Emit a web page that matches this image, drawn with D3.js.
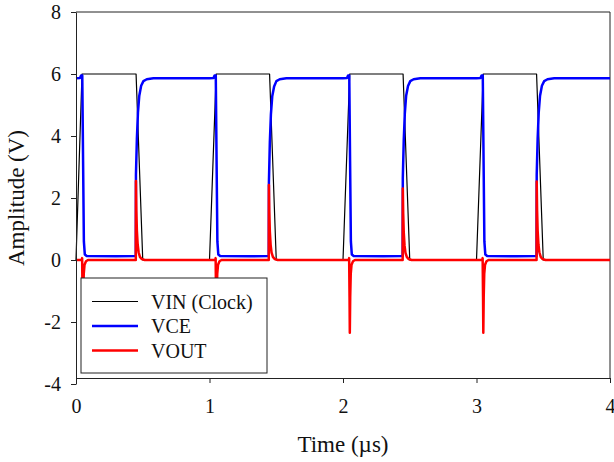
<!DOCTYPE html>
<html>
<head>
<meta charset="utf-8">
<script src="https://cdn.jsdelivr.net/npm/d3@7"></script>
<style>
  body { margin: 0; background: #fff; }
  svg text { font-family: "Liberation Serif", "Times New Roman", serif; fill: #111; }
  .line { fill: none; stroke-linejoin: round; }
</style>
</head>
<body>
<script>
// time in µs, amplitude in V
const vinT = [0, 0.045, 0.45, 0.5, 1.0, 1.05, 1.45, 1.5, 2.0, 2.05, 2.45, 2.5, 3.0, 3.05, 3.45, 3.5, 4.0];
const vinV = [0, 6, 6, 0, 0, 6, 6, 0, 0, 6, 6, 0, 0, 6, 6, 0, 0];

const vceT = [
  0, 0.03, 0.038, 0.047, 0.053, 0.059, 0.066, 0.08, 0.3, 0.448, 0.449, 0.456, 0.464, 0.474, 0.488, 0.505, 0.53, 0.58,
  1.0, 1.03, 1.038, 1.047, 1.053, 1.059, 1.066, 1.08, 1.3, 1.444, 1.445, 1.452, 1.46, 1.47, 1.484, 1.501, 1.526, 1.576,
  2.0, 2.03, 2.038, 2.047, 2.053, 2.059, 2.066, 2.08, 2.3, 2.447, 2.448, 2.455, 2.463, 2.473, 2.487, 2.504, 2.529, 2.579,
  3.0, 3.03, 3.038, 3.047, 3.053, 3.059, 3.066, 3.08, 3.3, 3.45, 3.451, 3.458, 3.466, 3.476, 3.49, 3.507, 3.532, 3.582,
  4.0];
const vceV = [
  5.86, 5.87, 5.95, 5.95, 3.2, 0.6, 0.18, 0.13, 0.12, 0.13, 2.75, 3.9, 4.75, 5.3, 5.62, 5.77, 5.83, 5.86,
  5.86, 5.87, 5.95, 5.95, 3.2, 0.6, 0.18, 0.13, 0.12, 0.13, 2.5, 3.8, 4.7, 5.28, 5.6, 5.77, 5.83, 5.86,
  5.86, 5.87, 5.95, 5.95, 3.2, 0.6, 0.18, 0.13, 0.12, 0.13, 2.65, 3.85, 4.72, 5.3, 5.61, 5.77, 5.83, 5.86,
  5.86, 5.87, 5.95, 5.95, 3.2, 0.6, 0.18, 0.13, 0.12, 0.13, 2.75, 3.9, 4.75, 5.3, 5.62, 5.77, 5.83, 5.86,
  5.86];

const voutT = [
  0, 0.043, 0.046, 0.049, 0.051, 0.054, 0.058, 0.064, 0.075, 0.09, 0.448, 0.449, 0.452, 0.456, 0.462, 0.469, 0.479, 0.492, 0.515,
  1.043, 1.046, 1.049, 1.051, 1.054, 1.058, 1.064, 1.075, 1.09, 1.444, 1.445, 1.448, 1.452, 1.458, 1.465, 1.475, 1.488, 1.511,
  2.043, 2.046, 2.049, 2.051, 2.054, 2.058, 2.064, 2.075, 2.09, 2.447, 2.448, 2.451, 2.455, 2.461, 2.468, 2.478, 2.491, 2.514,
  3.043, 3.046, 3.049, 3.051, 3.054, 3.058, 3.064, 3.075, 3.09, 3.45, 3.451, 3.454, 3.458, 3.464, 3.471, 3.481, 3.494, 3.517,
  4.0];
const voutV = [
  0, 0, 0.06, -1.2, -2.35, -1.2, -0.45, -0.15, -0.04, 0, 0, 2.55, 1.6, 0.95, 0.5, 0.25, 0.1, 0.03, 0,
  0, 0.06, -1.2, -2.35, -1.2, -0.45, -0.15, -0.04, 0, 0, 2.42, 1.55, 0.92, 0.48, 0.24, 0.1, 0.03, 0,
  0, 0.06, -1.2, -2.35, -1.2, -0.45, -0.15, -0.04, 0, 0, 2.31, 1.5, 0.9, 0.47, 0.23, 0.1, 0.03, 0,
  0, 0.06, -1.2, -2.35, -1.2, -0.45, -0.15, -0.04, 0, 0, 2.53, 1.6, 0.95, 0.5, 0.25, 0.1, 0.03, 0,
  0];

const seriesNames = ["VIN (Clock)", "VCE", "VOUT"];
const seriesColors = ["#000000", "#0000ff", "#ff0000"];
const xTicks = [0, 1, 2, 3, 4];
const yTicks = [-4, -2, 0, 2, 4, 6, 8];

const w = 614, h = 462;
const margin = ({top: 12, right: 4, bottom: 78, left: 76});
const xAxisY = 378;
const font = "'Liberation Serif', 'Times New Roman', serif";

const svg = d3.select("body").append("svg")
  .attr("width", w)
  .attr("height", h);

const x = d3.scaleLinear()
  .domain([0, 4])
  .range([margin.left, w - margin.right]);

const y = d3.scaleLinear()
  .domain([-4, 8])
  .range([h - margin.bottom, margin.top]);

const zip = (ts, vs) => ts.map((t, i) => [t, vs[i]]);
const series = [zip(vinT, vinV), zip(vceT, vceV), zip(voutT, voutV)];
const widths = [1.2, 2.5, 2.5];

let line = d3.line()
  .x(d => x(d[0]))
  .y(d => y(d[1]));

// frame: top and right
svg.append("line")
  .attr("x1", x(0)).attr("x2", x(4))
  .attr("y1", y(8)).attr("y2", y(8))
  .attr("stroke", "#222");
svg.append("line")
  .attr("x1", x(4)).attr("x2", x(4))
  .attr("y1", y(8)).attr("y2", xAxisY)
  .attr("stroke", "#222");

series.forEach((s, i) => {
  svg.append("path")
    .datum(s)
    .attr("class", "line")
    .attr("stroke", seriesColors[i])
    .attr("stroke-width", widths[i])
    .attr("d", line);
});

const fmt = d => String(d); // plain hyphen for negatives, as in the original

let xAxis = d3.axisBottom(x)
  .tickValues(xTicks)
  .tickFormat(fmt)
  .tickSize(5)
  .tickSizeOuter(0);

let yAxis = d3.axisLeft(y)
  .tickValues(yTicks)
  .tickFormat(fmt)
  .tickSize(5)
  .tickSizeOuter(0);

const gx = svg.append("g")
  .attr("transform", `translate(0,${xAxisY})`)
  .call(xAxis);
gx.selectAll("text").attr("y", 35).attr("dy", null);

const gy = svg.append("g")
  .attr("transform", `translate(${margin.left},0)`)
  .call(yAxis);
gy.selectAll("text").attr("x", -15);

svg.selectAll("g").attr("font-family", font).attr("font-size", 20);
svg.selectAll(".domain, .tick line").attr("stroke", "#222");
svg.selectAll(".tick text")
  .style("font-family", font)
  .style("font-size", "20px")
  .attr("fill", "#111");

svg.append("text")
  .attr("transform", `translate(24,${(y(8) + y(-4)) / 2}) rotate(-90)`)
  .attr("text-anchor", "middle")
  .style("font-size", "23px")
  .text("Amplitude (V)");

svg.append("text")
  .attr("x", (x(0) + x(4)) / 2)
  .attr("y", 452)
  .attr("text-anchor", "middle")
  .style("font-size", "23px")
  .text("Time (µs)");

// legend
const lg = svg.append("g").attr("transform", "translate(81,278)");
lg.append("rect")
  .attr("width", 186)
  .attr("height", 95)
  .attr("fill", "#fff")
  .attr("stroke", "#222");

seriesNames.forEach((name, i) => {
  const ly = 23.5 + i * 24.5;
  lg.append("line")
    .attr("x1", 11).attr("x2", 57)
    .attr("y1", ly).attr("y2", ly)
    .attr("stroke", seriesColors[i])
    .attr("stroke-width", widths[i]);
  lg.append("text")
    .attr("x", 70)
    .attr("y", ly + 7)
    .style("font-size", "20px")
    .text(name);
});
</script>
</body>
</html>
